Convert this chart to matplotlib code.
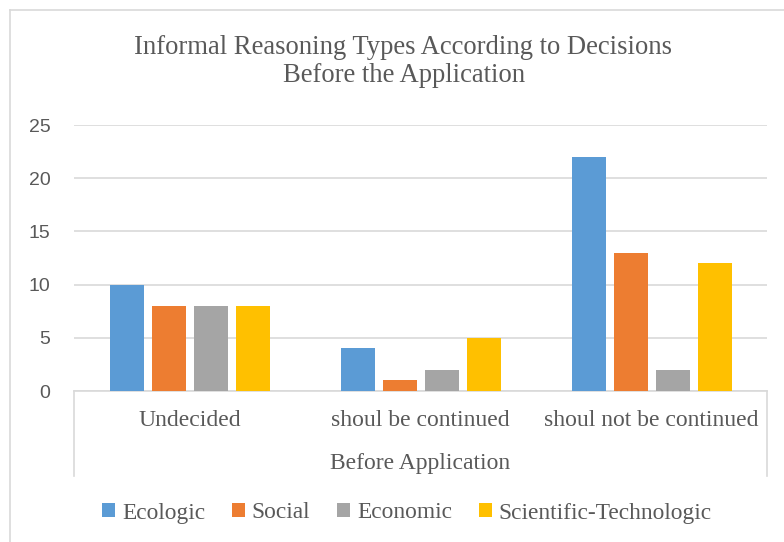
import numpy as np
import matplotlib
matplotlib.use('Agg')
import matplotlib.pyplot as plt
from matplotlib.patches import Patch
from matplotlib.lines import Line2D
import matplotlib.transforms as mtransforms

# Data
categories = ['Undecided', 'shoul be continued', 'shoul not be continued']
series_names = ['Ecologic', 'Social', 'Economic', 'Scientific-Technologic']
ecologic = [10, 4, 22]
social = [8, 1, 13]
economic = [8, 2, 2]
scientific = [8, 5, 12]
colors = ['#5B9BD5', '#ED7D31', '#A5A5A5', '#FFC000']

W, H = 784, 542
fig = plt.figure(figsize=(W / 100, H / 100), dpi=100)
text_color = '#595959'
grid_color = '#D9D9D9'
serif = ['Liberation Serif', 'DejaVu Serif']
sans = ['Liberation Sans', 'DejaVu Sans']

# chart border (left and top edges visible)
fig.add_artist(Line2D([10 / W, 10 / W], [0, 1 - 10 / H], color=grid_color, lw=1.2))
fig.add_artist(Line2D([10 / W, 1], [1 - 10 / H, 1 - 10 / H], color=grid_color, lw=1.2))

# plot area in pixels
left, right, top, bottom = 74, 767, 125, 391
ax = fig.add_axes([left / W, (H - bottom) / H, (right - left) / W, (bottom - top) / H])

x = np.arange(len(categories))
bar_w = 34 / 231
step = 42 / 231
all_series = [ecologic, social, economic, scientific]
for i, (vals, c) in enumerate(zip(all_series, colors)):
    ax.bar(x + (i - 1.5) * step, vals, width=bar_w, color=c, zorder=3)

ax.set_xlim(-0.5, 2.5)
ax.set_ylim(0, 25)
ax.set_yticks(range(0, 26, 5))
ax.yaxis.grid(True, color=grid_color, lw=1.2, zorder=0)
ax.tick_params(axis='y', length=0, pad=17, labelsize=14, labelcolor=text_color)
for lbl in ax.get_yticklabels():
    lbl.set_family(sans)
ax.set_xticks([])
for s in ['top', 'right', 'left']:
    ax.spines[s].set_visible(False)
ax.spines['bottom'].set_color(grid_color)
ax.spines['bottom'].set_linewidth(1.2)

# category labels and axis group box
ph = bottom - top
trans = mtransforms.blended_transform_factory(ax.transData, ax.transAxes)
for xi, cat in zip(x, categories):
    ax.text(xi, -30 / ph, cat, transform=trans, ha='center', va='center',
            fontsize=17, color=text_color, family=serif)
for xa in [0, 1]:
    ax.plot([xa, xa], [0, -85 / ph], transform=ax.transAxes, color=grid_color,
            lw=1.2, clip_on=False)
ax.text(0.5, -72 / ph, 'Before Application', transform=ax.transAxes, ha='center',
        va='center', fontsize=17, color=text_color, family=serif)

# title
fig.text(403 / W, 1 - 47 / H, 'Informal Reasoning Types According to Decisions',
         ha='center', va='center', fontsize=19.2, color=text_color, family=serif)
fig.text(404 / W, 1 - 76 / H, 'Before the Application',
         ha='center', va='center', fontsize=19.2, color=text_color, family=serif)

# legend
handles = [Patch(facecolor=c, edgecolor='none') for c in colors]
leg = fig.legend(handles, series_names, loc='center', bbox_to_anchor=(407 / W, 1 - 513 / H),
                 ncol=4, frameon=False, handlelength=0.55, handleheight=0.55,
                 handletextpad=0.3, columnspacing=1.15,
                 prop={'family': serif, 'size': 16.8})
for t in leg.get_texts():
    t.set_color(text_color)

plt.savefig('out.png', dpi=100)
